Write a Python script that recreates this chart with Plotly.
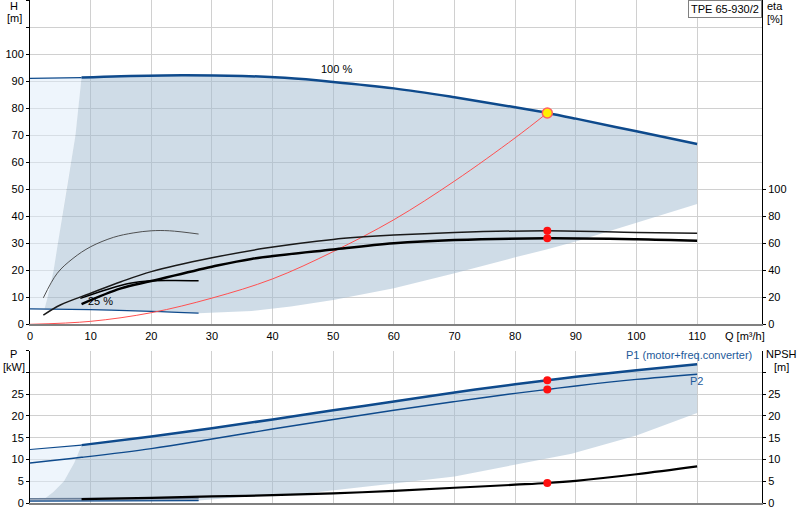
import plotly.graph_objects as go

# ---------------- data ----------------
# Top chart: head H [m] vs flow Q [m3/h]
Q_100 = [0, 8.5, 15, 25, 35, 42, 50, 60, 70, 80, 85.3, 90, 100, 110]
H_100 = [91.0, 91.3, 91.8, 92.2, 91.9, 91.2, 89.7, 87.3, 84.0, 80.3, 78.2, 76.1, 71.4, 66.7]

Q_25 = [0, 10, 20, 27.8]
H_25 = [5.7, 5.4, 4.8, 4.1]

Q_min = [27.8, 36.5, 43, 50, 60, 70, 80, 85, 90, 100, 110]
H_min = [4.1, 4.9, 6.6, 9.0, 13.3, 18.9, 24.8, 27.6, 30.6, 37.5, 44.5]

Q_lb = [8.5, 7.5, 6.0, 5.3, 4.6, 3.9, 2.9, 2.4]
H_lb = [91.3, 70, 50, 40, 30, 20, 10, 5.8]

Q_sys = [0, 10, 20, 30, 40, 50, 60, 70, 80, 85.3]
H_sys = [0, 1.1, 4.3, 9.7, 16.8, 26.9, 38.7, 53.0, 69.0, 78.2]

# efficiency curves [%]
Q_eta_tot = [2.2, 5, 10, 15, 20, 30, 38.6, 50, 60, 70, 85.3, 100, 110]
eta_tot = [6.8, 14.3, 23, 31.5, 39, 49.2, 56.2, 62.8, 66, 68, 69.2, 68, 67.4]

Q_eta_p = [8.5, 15, 20, 30, 36.5, 50, 60, 70, 85.3, 100, 110]
eta_p = [15, 26.6, 32, 42.6, 48.4, 55.4, 60, 62.4, 63.6, 62.9, 61.8]

Q_eta25a = [2.2, 4.5, 7.1, 10, 13.8, 17, 20, 23, 27.8]
eta25a = [19.6, 37.8, 48.8, 57.4, 64.4, 67.6, 69.2, 69.2, 66.8]

Q_eta25b = [8.3, 12.7, 16.5, 20, 24, 27.8]
eta25b = [19.2, 25.8, 30.4, 32.2, 32.4, 32.2]

Q_dp = 85.3
H_dp = 78.2
eta_dp = [69.2, 63.6]

# Bottom chart: power P [kW] and NPSH [m]
Q_P = [0, 8.5, 20, 30, 40, 50, 60, 70, 80, 85.3, 90, 100, 110]
P1 = [12.3, 13.3, 15.3, 17.2, 19.2, 21.3, 23.3, 25.4, 27.3, 28.2, 29.0, 30.5, 31.9]
P2 = [9.2, 10.5, 12.5, 14.7, 17.0, 19.2, 21.3, 23.3, 25.2, 26.1, 26.9, 28.4, 29.6]

Q_Pmin = [27.8, 35, 45, 49.5, 60, 70, 80, 89.3, 100, 110]
P_min = [0.6, 1.4, 2.1, 2.7, 4.5, 6.1, 8.8, 11.3, 15.5, 20.7]

Q_plb = [8.5, 7.3, 5.6, 3.9, 2.3]
P_plb = [13.3, 9.25, 5.0, 2.6, 0.85]

Q_25P = [0, 10, 20, 27.8]
P1_25 = [1.0, 1.0, 1.05, 1.1]
P2_25 = [0.45, 0.5, 0.55, 0.55]

Q_npsh = [8.5, 20, 30, 40, 50, 60, 70, 80, 85.3, 90, 100, 110]
NPSH = [0.9, 1.2, 1.5, 1.8, 2.2, 2.8, 3.5, 4.2, 4.6, 5.1, 6.6, 8.4]

dp_P = [28.2, 26.1]
dp_npsh = 4.6

x_ticks = [0, 10, 20, 30, 40, 50, 60, 70, 80, 90, 100, 110]
h_ticks = [0, 10, 20, 30, 40, 50, 60, 70, 80, 90, 100, 110, 120]
h_text = ['0', '10', '20', '30', '40', '50', '60', '70', '80', '90', '100', '', '']
eta_ticks = [0, 20, 40, 60, 80, 100]
p_ticks = [0, 5, 10, 15, 20, 25, 30, 35]
p_text = ['0', '5', '10', '15', '20', '25', '', '']
n_ticks = [0, 5, 10, 15, 20, 25, 30]
n_text = ['0', '5', '10', '15', '20', '25', '']

# ---------------- styles ----------------
FONT = "Liberation Sans, Arial, sans-serif"
BLUE = "#0E4A8C"
GRID = "#D0D0D0"
FILL = "rgba(160,185,208,0.5)"
LIGHT = "rgba(221,235,249,0.5)"

fig = go.Figure()

def add(tr):
    fig.add_trace(tr)

# ---- top chart fills ----
add(go.Scatter(x=[Q_25[0], Q_100[0]] + Q_lb, y=[H_25[0], H_100[0]] + H_lb,
               fill='toself', fillcolor=LIGHT, line=dict(width=0), mode='lines',
               xaxis='x', yaxis='y', hoverinfo='skip'))
add(go.Scatter(x=Q_100[1:] + Q_min[::-1] + Q_25[:0:-1] + Q_lb[::-1],
               y=H_100[1:] + H_min[::-1] + H_25[:0:-1] + H_lb[::-1],
               fill='toself', fillcolor=FILL, line=dict(width=0), mode='lines',
               xaxis='x', yaxis='y', hoverinfo='skip'))

# ---- top chart lines ----
add(go.Scatter(x=Q_100[:2], y=H_100[:2], mode='lines', line=dict(color=BLUE, width=1.2),
               xaxis='x', yaxis='y'))
add(go.Scatter(x=Q_100[1:], y=H_100[1:], mode='lines', line=dict(color=BLUE, width=2.5, shape='spline'),
               xaxis='x', yaxis='y'))
add(go.Scatter(x=Q_25, y=H_25, mode='lines', line=dict(color=BLUE, width=1.3, shape='spline'),
               xaxis='x', yaxis='y'))
add(go.Scatter(x=Q_sys, y=H_sys, mode='lines', line=dict(color='#FF5050', width=1, shape='spline'),
               xaxis='x', yaxis='y'))

add(go.Scatter(x=Q_eta25a, y=eta25a, mode='lines', line=dict(color='#404040', width=0.9, shape='spline'),
               xaxis='x', yaxis='y2'))
add(go.Scatter(x=Q_eta25b, y=eta25b, mode='lines', line=dict(color='#000000', width=1.5, shape='spline'),
               xaxis='x', yaxis='y2'))
add(go.Scatter(x=Q_eta_tot, y=eta_tot, mode='lines', line=dict(color='#1A1A1A', width=1.5, shape='spline'),
               xaxis='x', yaxis='y2'))
add(go.Scatter(x=Q_eta_p, y=eta_p, mode='lines', line=dict(color='#000000', width=2.5, shape='spline'),
               xaxis='x', yaxis='y2'))

add(go.Scatter(x=[Q_dp, Q_dp], y=eta_dp, mode='markers',
               marker=dict(color='#FF1010', size=8), xaxis='x', yaxis='y2'))
add(go.Scatter(x=[Q_dp], y=[H_dp], mode='markers',
               marker=dict(color='#FFF000', size=10, line=dict(color='#FF6060', width=1.5)),
               xaxis='x', yaxis='y'))

# ---- bottom chart fills ----
add(go.Scatter(x=[0, Q_P[0]] + Q_plb, y=[P1_25[0], P1[0]] + P_plb,
               fill='toself', fillcolor=LIGHT, line=dict(width=0), mode='lines',
               xaxis='x2', yaxis='y3', hoverinfo='skip'))
add(go.Scatter(x=Q_P[1:] + Q_Pmin[::-1] + Q_plb[::-1],
               y=P1[1:] + P_min[::-1] + P_plb[::-1],
               fill='toself', fillcolor=FILL, line=dict(width=0), mode='lines',
               xaxis='x2', yaxis='y3', hoverinfo='skip'))

# ---- bottom chart lines ----
add(go.Scatter(x=Q_25P, y=P1_25, mode='lines', line=dict(color='#6A7F99', width=1.2),
               xaxis='x2', yaxis='y3'))
add(go.Scatter(x=Q_25P, y=P2_25, mode='lines', line=dict(color=BLUE, width=1.2),
               fill='tonexty', fillcolor='rgba(100,120,150,0.55)', xaxis='x2', yaxis='y3'))
add(go.Scatter(x=Q_P[:2], y=P1[:2], mode='lines', line=dict(color=BLUE, width=1.2),
               xaxis='x2', yaxis='y3'))
add(go.Scatter(x=Q_P[1:], y=P1[1:], mode='lines', line=dict(color=BLUE, width=2.5, shape='spline'),
               xaxis='x2', yaxis='y3'))
add(go.Scatter(x=Q_P, y=P2, mode='lines', line=dict(color=BLUE, width=1.4, shape='spline'),
               xaxis='x2', yaxis='y3'))
add(go.Scatter(x=Q_npsh, y=NPSH, mode='lines', line=dict(color='#000000', width=2.2, shape='spline'),
               xaxis='x2', yaxis='y4'))
add(go.Scatter(x=[Q_dp, Q_dp], y=dp_P, mode='markers', marker=dict(color='#FF1010', size=8),
               xaxis='x2', yaxis='y3'))
add(go.Scatter(x=[Q_dp], y=[dp_npsh], mode='markers', marker=dict(color='#FF1010', size=8),
               xaxis='x2', yaxis='y4'))

# ---------------- layout ----------------
L, R, T, B = 30, 38, 0, 17
W, H = 800, 520
PW, PH = W - L - R, H - T - B

def px(xp):
    return (xp - L) / PW

def py(yp):
    return (H - B - yp) / PH

tf = dict(family=FONT, size=11, color='#000000')
xr = [0, 120.7]

axis_common = dict(zeroline=False, tickfont=tf, gridcolor=GRID, gridwidth=1)

fig.update_layout(
    width=W, height=H, margin=dict(l=L, r=R, t=T, b=B),
    paper_bgcolor='white', plot_bgcolor='white', showlegend=False,
    font=tf, hovermode=False,
    xaxis=dict(domain=[0, 1], range=xr, anchor='y', tickvals=x_ticks, showgrid=True,
               showline=True, linecolor='#808080', linewidth=2, ticks='', **axis_common),
    yaxis=dict(domain=[py(324.3), 1], range=[0, 120], anchor='x', tickvals=h_ticks, ticktext=h_text,
               showgrid=True, showline=True, linecolor='#000000', linewidth=1,
               ticks='outside', ticklen=3, tickcolor='#000000', **axis_common),
    yaxis2=dict(overlaying='y', side='right', anchor='x', range=[0, 240], tickvals=eta_ticks,
                showgrid=False, showline=True, linecolor='#000000', linewidth=1,
                ticks='outside', ticklen=3, tickcolor='#000000', **axis_common),
    xaxis2=dict(domain=[0, 1], range=xr, anchor='y3', tickvals=x_ticks, showticklabels=False,
                showgrid=True, showline=True, linecolor='#808080', linewidth=2, ticks='', **axis_common),
    yaxis3=dict(domain=[0, py(350.7)], range=[0, 35], anchor='x2', tickvals=p_ticks, ticktext=p_text,
                showgrid=True, showline=True, linecolor='#000000', linewidth=1,
                ticks='outside', ticklen=3, tickcolor='#000000', **axis_common),
    yaxis4=dict(overlaying='y3', side='right', anchor='x2', range=[0, 35], tickvals=n_ticks, ticktext=n_text,
                showgrid=False, showline=True, linecolor='#000000', linewidth=1,
                ticks='outside', ticklen=3, tickcolor='#000000', **axis_common),
)

def note(text, xp, yp, color='#000000', xanchor='center', size=11):
    fig.add_annotation(text=text, x=px(xp), y=py(yp), xref='paper', yref='paper',
                       showarrow=False, xanchor=xanchor, yanchor='middle',
                       font=dict(family=FONT, size=size, color=color))

note('H', 14, 6)
note('[m]', 14, 18)
note('eta', 775, 6)
note('[%]', 775, 19)
note('P', 13, 354)
note('[kW]', 14, 367)
note('NPSH', 781, 354)
note('[m]', 781, 367)
note('Q [m³/h]', 745, 336)
note('P1 (motor+freq.converter)', 754, 355, color='#1E5A9A', xanchor='right')
note('P2', 696, 381, color='#1E5A9A')

fig.add_annotation(text='25 %', x=11.6, y=8.6, xref='x', yref='y', showarrow=False,
                   font=dict(family=FONT, size=11, color='#000000'))
fig.add_annotation(text='100 %', x=50.6, y=94.5, xref='x', yref='y', showarrow=False,
                   font=dict(family=FONT, size=11, color='#000000'))

fig.add_annotation(text='TPE 65-930/2', x=1, y=1, xref='paper', yref='paper', showarrow=False,
                   xanchor='right', yanchor='top', bgcolor='white', bordercolor='#808080',
                   borderwidth=1, borderpad=2, font=dict(family=FONT, size=11, color='#000000'))

fig.write_html("out.html", config={'displayModeBar': False},
               post_script="document.body.style.margin='0px';")
